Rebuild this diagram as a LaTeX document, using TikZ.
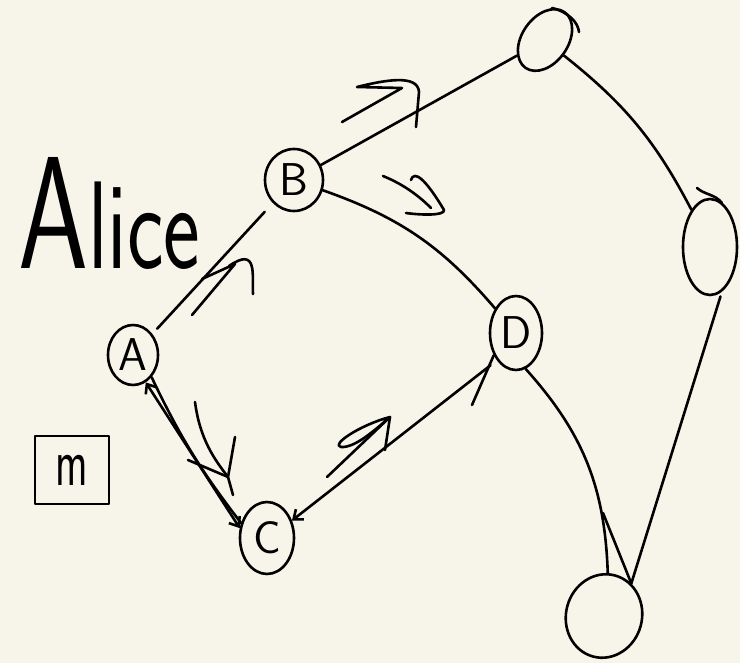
\documentclass[tikz,border=0pt]{standalone}
\usepackage{fontspec}
\usetikzlibrary{shapes.geometric,arrows.meta}
\definecolor{paper}{RGB}{247,245,234}
\tikzset{
  pen/.style={line width=2.6pt, line cap=round, line join=round, draw=black},
  vertex/.style={ellipse, pen, inner sep=0pt,
    font=\sffamily\fontsize{46}{46}\selectfont},
  barb/.style={-{Straight Barb[length=8pt,width=13pt,line width=2.6pt]}},
  barbs/.style={{Straight Barb[length=8pt,width=13pt,line width=2.6pt]}-{Straight Barb[length=8pt,width=13pt,line width=2.6pt]}},
}
\begin{document}
\begin{tikzpicture}[x=1pt,y=-1pt]
\fill[paper] (0,0) rectangle (740,663);
\useasboundingbox (0,0) rectangle (740,663);

% handwritten name
\node[anchor=south west, inner sep=0pt, font=\sffamily] (name) at (18,270)
  {\scalebox{1.12}[1.6]{\fontsize{100}{100}\selectfont A\fontsize{78}{78}\selectfont lice}};

% boxed letter
\node[rectangle, pen, minimum width=74pt, minimum height=68pt,
      font=\sffamily\fontsize{46}{46}\selectfont] (m) at (72,470)
  {\scalebox{0.95}[1.5]{m}};

% vertices
\node[vertex, minimum width=50pt, minimum height=60pt] (A) at (133,355) {A};
\node[vertex, minimum width=58pt, minimum height=62pt] (B) at (294,180) {B};
\node[vertex, minimum width=54pt, minimum height=72pt] (C) at (267,538) {C};
\node[vertex, minimum width=52pt, minimum height=74pt] (D) at (516,333) {D};
\node[vertex, minimum width=46pt, minimum height=68pt, rotate=-35] (Top) at (545,40) {};
\node[vertex, minimum width=54pt, minimum height=96pt] (Right) at (710,247) {};
\node[vertex, minimum width=76pt, minimum height=84pt, rotate=-15] (Bottom) at (604,616) {};

% connectors
\draw[pen, shorten <=7pt, shorten >=12pt] (A) -- (B);
\draw[pen] (B) -- (Top);
\draw[pen] (B) to[bend left=15] (D);
\draw[pen, barbs] (A.-65) -- (C.160);
\draw[pen] (A.-50) to[bend right=6] (C.150);
\draw[pen, barb, shorten <=8pt] (D.-125) -- (C.35);
\draw[pen] (Top) to[bend left=12] (Right);
\draw[pen, shorten <=5pt] (Right.-75) -- (Bottom.65);
\draw[pen] (D.-75) to[bend left=20] (Bottom.100);

% extra barbs near the heads
\coordinate (barbBottom) at (603,513);
\draw[pen] (barbBottom) -- (Bottom.65);
\coordinate (barbD) at (472,405);
\draw[pen] (barbD) -- (D.-135);

% closing overlaps of the hand-drawn loops
\draw[pen] (552,8) .. controls (568,12) and (578,22) .. (579,32);
\draw[pen] (697,188) .. controls (705,195) and (715,194) .. (722,203);

% direction marks
\draw[pen] (192,315) -- (235,264) -- (202,279);
\draw[pen] (229,266) .. controls (258,246) and (252,275) .. (253,294);

\draw[pen] (342,122) -- (402,88) -- (357,87) .. controls (385,80) and (418,74) .. (419,92) -- (416,127);

\draw[pen] (383,176) .. controls (405,185) and (420,197) .. (431,208);
\draw[pen] (411,180) .. controls (414,170) and (425,178) .. (444,210)
  .. controls (445,216) and (420,215) .. (406,213);

\draw[pen] (195,402) .. controls (200,440) and (215,460) .. (228,477);
\draw[pen] (235,437) -- (228,477);
\draw[pen] (188,460) -- (228,477) -- (233,495);

\draw[pen] (390,417) .. controls (360,425) and (330,445) .. (341,447)
  .. controls (355,448) and (375,430) .. (390,417);
\draw[pen] (390,417) -- (385,450);
\draw[pen] (327,477) -- (390,417);
\end{tikzpicture}
\end{document}
